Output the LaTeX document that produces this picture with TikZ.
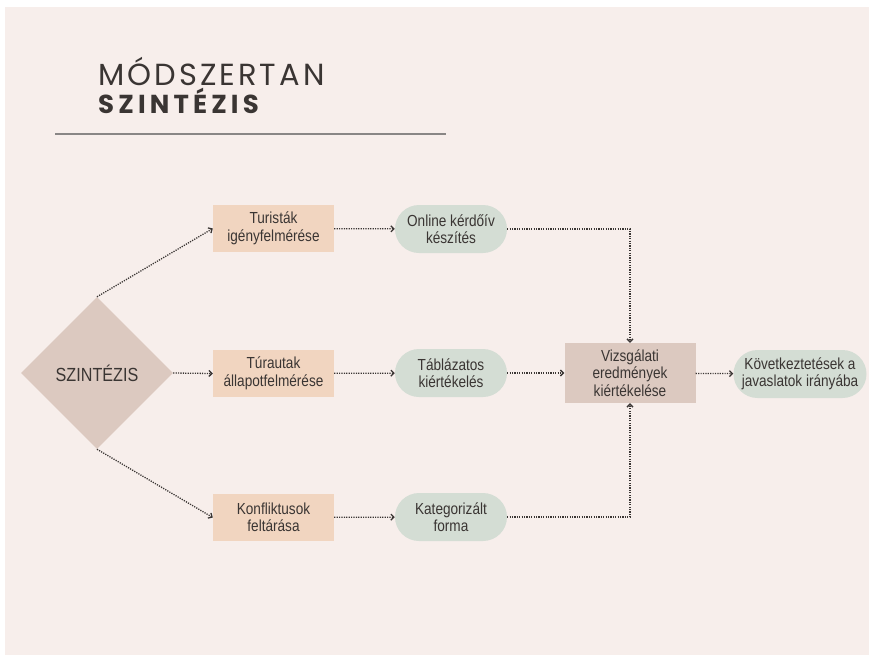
\documentclass[tikz,border=0pt]{standalone}
\usepackage{fontspec}
\setmainfont{Liberation Sans}[FakeStretch=0.85]
\newfontfamily\titlefont{Poppins}[LetterSpace=10]
\newfontfamily\titlebold{Poppins}[LetterSpace=16]
\usetikzlibrary{shapes.geometric,arrows.meta}
\definecolor{bgpink}{HTML}{F7EEEB}
\definecolor{peach}{HTML}{F1D5C0}
\definecolor{mauve}{HTML}{DCC9C0}
\definecolor{sage}{HTML}{D4DDD4}
\definecolor{ink}{HTML}{3A3533}
\begin{document}
\begin{tikzpicture}[x=1pt, y=-1pt]
      \tikzset{box/.style={fill=peach, inner sep=0pt, minimum width=121pt, minimum height=47pt, align=center, text=ink, font=\fontsize{16}{17.5}\selectfont},
               pill/.style={fill=sage, rounded corners=24pt, inner sep=0pt, minimum width=112pt, minimum height=48pt, align=center, text=ink, font=\fontsize{16}{17.5}\selectfont},
               conn/.style={line width=1.3pt, dash pattern=on 1.2pt off 1.2pt, draw=ink, -{Straight Barb[length=3pt, width=6pt]}}}
%% Background
      \useasboundingbox (0,0) rectangle (869,657);
      \fill[bgpink] (5,7) rectangle (869,655);
%% Title
      \node[anchor=base west, inner sep=0pt, text=ink, font=\titlefont\fontsize{30.5}{30}\selectfont] (title1) at (98,85) {MÓDSZERTAN};
      \node[anchor=base west, inner sep=0pt, text=ink, font=\titlebold\bfseries\fontsize{26}{26}\selectfont] (title2) at (98,113) {SZINTÉZIS};
      \draw[line width=1.2pt, draw=ink!60] (55,134) -- (446,134);
%% Nodes
      \node[diamond, fill=mauve, inner sep=0pt, minimum width=152pt, minimum height=152pt, text=ink, font=\fontsize{19}{19}\selectfont] (szin) at (97,373) {SZINTÉZIS};
      \node[box] (turis) at (273.5,228.5) {Turisták\\igényfelmérése};
      \node[box] (tura) at (273.5,373.5) {Túrautak\\állapotfelmérése};
      \node[box] (konf) at (273.5,517.5) {Konfliktusok\\feltárása};
      \node[pill] (online) at (451,229) {Online kérdőív\\készítés};
      \node[pill] (tabla) at (451,373) {Táblázatos\\kiértékelés};
      \node[pill] (kateg) at (451,517) {Kategorizált\\forma};
      \node[box, fill=mauve, minimum width=131pt, minimum height=60pt] (vizs) at (630,373) {Vizsgálati\\eredmények\\kiértékelése};
      \node[pill, minimum width=133pt] (kovet) at (800,374) {Következtetések a\\javaslatok irányába};
%Edges
      \draw[conn] (szin.north) -- (turis.west);
      \draw[conn] (szin.east) -- (tura.west);
      \draw[conn] (szin.south) -- (konf.west);
      \draw[conn] (turis) -- (online);
      \draw[conn] (tura) -- (tabla);
      \draw[conn] (konf) -- (kateg);
      \draw[conn] (online) -| (vizs);
      \draw[conn] (tabla) -- (vizs);
      \draw[conn] (kateg) -| (vizs);
      \draw[conn] (vizs) -- (kovet);
\end{tikzpicture}
\end{document}
